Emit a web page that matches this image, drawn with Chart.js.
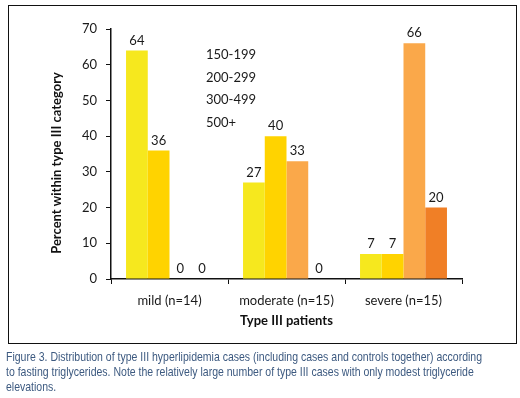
<!DOCTYPE html>
<html>
<head>
<meta charset="utf-8">
<script src="https://cdn.jsdelivr.net/npm/chart.js@4.4.1/dist/chart.umd.min.js"></script>
<style>
  html, body { margin: 0; padding: 0; background: #fff; }
  body { width: 520px; height: 398px; position: relative; overflow: hidden; }
  #wrap { position: absolute; left: 0; top: 0; width: 520px; height: 345px; }
  #frame { position: absolute; left: 8px; top: 5px; width: 507px; height: 337px; border: 1.5px solid #111; pointer-events: none; }
  #caption { position: absolute; left: 6px; top: 349px; width: 900px; font-family: "Liberation Sans", Arial, sans-serif; font-size: 13px; line-height: 15px; color: #3d5a80; }
  #caption span { display: inline-block; white-space: nowrap; transform-origin: 0 0; }
</style>
</head>
<body>
<div id="wrap"><canvas id="c" width="520" height="345"></canvas></div>
<div id="frame"></div>
<div id="caption"><span>Figure 3. Distribution of type III hyperlipidemia cases (including cases and controls together) according</span><br><span>to fasting triglycerides. Note the relatively large number of type III cases with only modest triglyceride</span><br><span>elevations.</span></div>
<script>
const categories = ["mild (n=14)", "moderate (n=15)", "severe (n=15)"];
const seriesLabels = ["150-199", "200-299", "300-499", "500+"];
const s150_199 = [64, 27, 7];
const s200_299 = [36, 40, 7];
const s300_499 = [0, 33, 66];
const s500plus = [0, 0, 20];
const yTicks = [0, 10, 20, 30, 40, 50, 60, 70];
const xTitle = "Type III patients";
const yTitle = "Percent within type III category";

// condense caption lines to the reference width
(function () {
  const spans = document.querySelectorAll('#caption span');
  const w = spans[0].getBoundingClientRect().width;
  const k = 476 / w;
  spans.forEach(s => { s.style.transform = 'scaleX(' + k + ')'; });
})();

const colors = ["#F6E81E", "#FFD300", "#FAA84A", "#F07F26"];
const FONT = "Lato, 'Open Sans', sans-serif";

const valueLabels = {
  id: 'valueLabels',
  afterDatasetsDraw(chart) {
    const ctx = chart.ctx;
    ctx.save();
    ctx.font = "13px " + FONT;
    ctx.fillStyle = "#1a1a1a";
    ctx.textAlign = "center";
    ctx.textBaseline = "middle";
    chart.data.datasets.forEach((ds, i) => {
      const meta = chart.getDatasetMeta(i);
      meta.data.forEach((bar, j) => {
        ctx.fillText(String(ds.data[j]), bar.x, bar.y - 10);
      });
    });
    ctx.restore();
  }
};

const textLegend = {
  id: 'textLegend',
  afterDraw(chart, args, opts) {
    const ctx = chart.ctx;
    ctx.save();
    ctx.font = "13px " + FONT;
    ctx.fillStyle = "#1a1a1a";
    ctx.textAlign = "left";
    ctx.textBaseline = "middle";
    chart.data.datasets.forEach((ds, i) => {
      ctx.fillText(ds.label, opts.x, opts.y + i * opts.step);
    });
    ctx.restore();
  }
};

const yAxisTitle = {
  id: 'yAxisTitle',
  afterDraw(chart, args, opts) {
    const ctx = chart.ctx;
    ctx.save();
    ctx.font = "bold 13px " + FONT;
    ctx.fillStyle = "#111";
    ctx.textAlign = "center";
    ctx.textBaseline = "middle";
    const ca = chart.chartArea;
    ctx.translate(opts.x, (ca.top + ca.bottom) / 2 + opts.dy);
    ctx.rotate(-Math.PI / 2);
    ctx.fillText(opts.text, 0, 0);
    ctx.restore();
  }
};

new Chart(document.getElementById('c'), {
  type: 'bar',
  data: {
    labels: categories,
    datasets: [
      { label: seriesLabels[0], data: s150_199, backgroundColor: colors[0] },
      { label: seriesLabels[1], data: s200_299, backgroundColor: colors[1] },
      { label: seriesLabels[2], data: s300_499, backgroundColor: colors[2] },
      { label: seriesLabels[3], data: s500plus, backgroundColor: colors[3] }
    ]
  },
  options: {
    responsive: false,
    animation: false,
    layout: { padding: { left: 0, top: 29, right: 58, bottom: 0 } },
    datasets: { bar: { barPercentage: 1.0, categoryPercentage: 0.743, borderWidth: 0 } },
    plugins: {
      legend: { display: false },
      tooltip: { enabled: false },
      textLegend: { x: 206, y: 55, step: 22.6 },
      yAxisTitle: { x: 57, dy: 9, text: yTitle }
    },
    scales: {
      x: {
        grid: { display: true, drawOnChartArea: false, drawTicks: true, tickLength: 5, color: "#111", offset: true },
        border: { display: true, color: "#111", width: 1.5 },
        ticks: { color: "#1a1a1a", font: { family: FONT, size: 13 }, padding: 9 },
        title: { display: true, text: xTitle, color: "#111", font: { family: FONT, size: 13, weight: 'bold' }, padding: { top: 0, bottom: 16 } },
        afterFit(scale) { scale.height = 66; }
      },
      y: {
        min: 0, max: 70,
        afterBuildTicks(scale) { scale.ticks = yTicks.map(v => ({ value: v })); },
        grid: { display: true, drawOnChartArea: false, drawTicks: true, tickLength: 5, color: "#111" },
        border: { display: true, color: "#111", width: 1.5 },
        ticks: { color: "#1a1a1a", font: { family: FONT, size: 13 }, padding: 9 },
        afterFit(scale) { scale.width = 111; }
      }
    }
  },
  plugins: [valueLabels, textLegend, yAxisTitle]
});
</script>
</body>
</html>
